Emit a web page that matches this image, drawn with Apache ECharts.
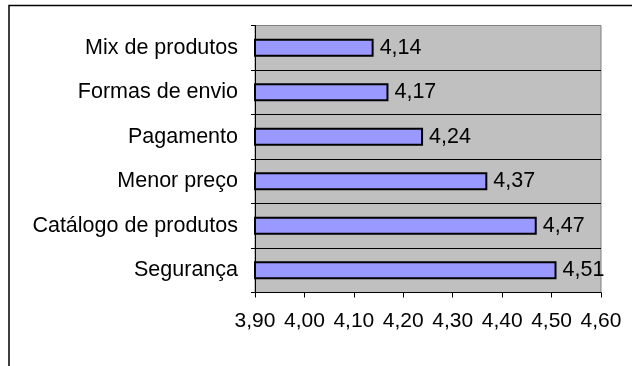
<!DOCTYPE html>
<html>
<head>
<meta charset="utf-8">
<script src="https://cdn.jsdelivr.net/npm/echarts@6/dist/echarts.min.js"></script>
<style>
  html, body { margin: 0; padding: 0; background: #fff; }
  #chart { width: 632px; height: 366px; }
</style>
</head>
<body>
<div id="chart"></div>
<script>
// categories from bottom to top
const categories = ['Segurança', 'Catálogo de produtos', 'Menor preço', 'Pagamento', 'Formas de envio', 'Mix de produtos']
const scores = [4.51, 4.47, 4.37, 4.24, 4.17, 4.14]
const axisMin = 3.9
const axisMax = 4.6
const axisStep = 0.1

const font = 'Liberation Sans, Arial, sans-serif'
const fmt = v => v.toFixed(2).replace('.', ',')

const chart = echarts.init(document.getElementById('chart'))

chart.setOption({
  animation: false,
  graphic: [
    {
      type: 'rect',
      shape: { x: 9, y: 5.5, width: 700, height: 500 },
      style: { fill: 'none', stroke: '#000', lineWidth: 1.5 },
      silent: true
    }
  ],
  grid: {
    left: 255,
    top: 25.5,
    width: 346,
    height: 267,
    show: true,
    backgroundColor: '#c0c0c0',
    borderColor: '#808080',
    borderWidth: 1
  },
  xAxis: {
    type: 'value',
    min: axisMin,
    max: axisMax,
    interval: axisStep,
    axisLine: { show: true, lineStyle: { color: '#000', width: 1 } },
    axisTick: { show: true, length: 5, lineStyle: { color: '#000' } },
    splitLine: { show: false },
    axisLabel: {
      margin: 18,
      color: '#000',
      fontFamily: font,
      fontSize: 21,
      formatter: v => fmt(v)
    }
  },
  yAxis: {
    type: 'category',
    data: categories,
    axisLine: { show: true, lineStyle: { color: '#000', width: 1 } },
    axisTick: { show: true, length: 4, lineStyle: { color: '#000' } },
    splitLine: {
      show: true,
      lineStyle: { color: ['#000', '#000', '#000', '#000', '#000', '#000', '#808080'], width: 1 }
    },
    axisLabel: {
      margin: 17,
      color: '#000',
      fontFamily: font,
      fontSize: 21.5
    }
  },
  series: [
    {
      type: 'bar',
      data: scores,
      barWidth: 18,
      itemStyle: { color: '#9999ff', borderColor: '#000', borderWidth: 2 },
      label: {
        show: true,
        position: 'right',
        distance: 6,
        color: '#000',
        fontFamily: font,
        fontSize: 21.5,
        formatter: p => fmt(p.value)
      }
    }
  ]
})
</script>
</body>
</html>
